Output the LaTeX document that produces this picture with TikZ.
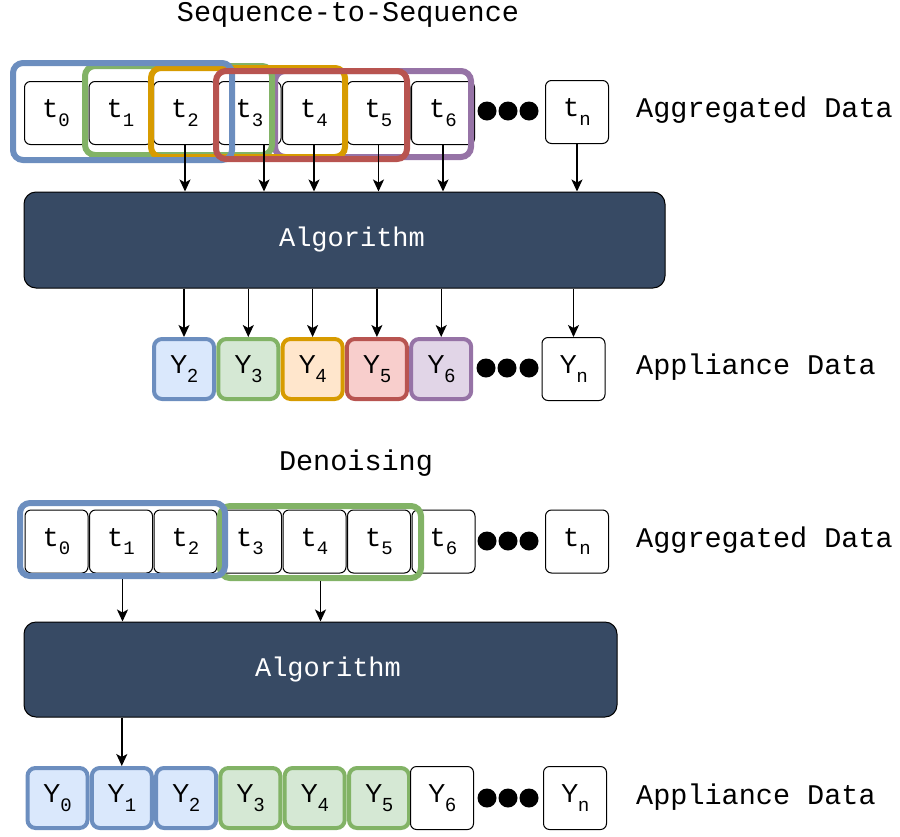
\documentclass[tikz,border=0pt]{standalone}
\usepackage{fontspec}
\setmainfont{Liberation Sans}
\setsansfont{Liberation Sans}
\setmonofont{Liberation Mono}
\usetikzlibrary{arrows.meta,positioning}

\definecolor{winblue}{HTML}{6C8EBF}
\definecolor{fillblue}{HTML}{DAE8FC}
\definecolor{wingreen}{HTML}{82B366}
\definecolor{fillgreen}{HTML}{D5E8D4}
\definecolor{winorange}{HTML}{D79B00}
\definecolor{fillorange}{HTML}{FFE6CC}
\definecolor{winred}{HTML}{B85450}
\definecolor{fillred}{HTML}{F8CECC}
\definecolor{winpurple}{HTML}{9673A6}
\definecolor{fillpurple}{HTML}{E1D5E7}
\definecolor{algfill}{HTML}{374A64}

\newcommand{\idx}[1]{\raisebox{-0.32em}{\fontsize{19}{19}\selectfont #1}}

\tikzset{
  tbox/.style={draw=black, line width=1pt, fill=white, rounded corners=6pt,
    minimum width=63pt, minimum height=63pt, inner sep=0pt,
    font=\ttfamily\fontsize{27}{30}\selectfont},
  ybox/.style={draw=#1, line width=4pt, rounded corners=8pt,
    minimum width=60pt, minimum height=60pt, inner sep=0pt,
    font=\sffamily\fontsize{26}{30}\selectfont},
  ywhite/.style={draw=black, line width=1pt, fill=white, rounded corners=6pt,
    minimum width=63pt, minimum height=63pt, inner sep=0pt,
    font=\sffamily\fontsize{26}{30}\selectfont},
  window/.style={draw=#1, line width=6pt, rounded corners=10pt, inner sep=0pt},
  algbox/.style={draw=black, line width=1pt, fill=algfill, rounded corners=12pt,
    inner sep=0pt, text=white, font=\ttfamily\fontsize{27}{30}\selectfont},
  dotnode/.style={circle, fill=black, minimum size=19pt, inner sep=0pt},
  lbl/.style={inner sep=0pt, font=\ttfamily\fontsize{28.5}{34}\selectfont},
  arr/.style={-{Stealth[length=12pt,width=11pt,inset=3pt]}, line width=1.4pt}
}

\begin{document}
\begin{tikzpicture}[x=1pt, y=-1pt]
\useasboundingbox (0,0) rectangle (900,836);

% Sequence-to-Sequence
\node[lbl] (titleA) at (348,15) {Sequence-to-Sequence};

\foreach \i in {0,...,6}
  \node[tbox] (t\i) at ({56+64.5*\i},113) {t\idx{\i}};
\node[dotnode] (da1) at (487,111) {};
\node[dotnode] (da2) at (508,111) {};
\node[dotnode] (da3) at (529,111) {};
\node[tbox] (tn) at (577,112) {t\idx{n}};
\node[lbl, anchor=west] (aggA) at (636,110) {Aggregated Data};

\node[window=winpurple, minimum width=196pt, minimum height=86pt] (wp) at (373,114) {};
\node[window=wingreen, minimum width=187pt, minimum height=89pt] (wg) at (178.5,110.5) {};
\node[window=winorange, minimum width=194pt, minimum height=89pt] (wo) at (248,112.5) {};
\node[window=winblue, minimum width=219pt, minimum height=97pt] (wb) at (122.5,111.5) {};
\node[window=winred, minimum width=191pt, minimum height=88pt] (wr) at (311.5,115) {};

\node[algbox, minimum width=641pt, minimum height=96pt] (algA) at (344.5,240) {\hspace{15pt}Algorithm};

\draw[arr] (t2.south) -- (t2.south |- algA.north);
\draw[arr] ([xshift=14.5pt]t3.south) -- ([xshift=14.5pt]t3.south |- algA.north);
\draw[arr] (t4.south) -- (t4.south |- algA.north);
\draw[arr] (t5.south) -- (t5.south |- algA.north);
\draw[arr] (t6.south) -- (t6.south |- algA.north);
\draw[arr] (tn.south) -- (tn.south |- algA.north);

\node[ybox=winblue, fill=fillblue] (ya2) at (184,369) {Y\idx{2}};
\node[ybox=wingreen, fill=fillgreen] (ya3) at (248.3,369) {Y\idx{3}};
\node[ybox=winorange, fill=fillorange] (ya4) at (312.6,369) {Y\idx{4}};
\node[ybox=winred, fill=fillred] (ya5) at (376.9,369) {Y\idx{5}};
\node[ybox=winpurple, fill=fillpurple] (ya6) at (441.2,369) {Y\idx{6}};
\node[dotnode] (db1) at (486,368) {};
\node[dotnode] (db2) at (507,368) {};
\node[dotnode] (db3) at (529,368) {};
\node[ywhite] (yan) at (573.5,369) {Y\idx{n}};
\node[lbl, anchor=west] (appA) at (636,367) {Appliance Data};

\foreach \y in {ya2,ya3,ya4,ya5,ya6,yan}
  \draw[arr] (algA.south -| \y.north) -- (\y.north);

% Denoising
\node[lbl] (titleB) at (356,463) {Denoising};

\foreach \i in {0,...,6}
  \node[tbox] (s\i) at ({56.5+64.5*\i},541.5) {t\idx{\i}};
\node[dotnode] (dc1) at (487,541) {};
\node[dotnode] (dc2) at (508,541) {};
\node[dotnode] (dc3) at (529,541) {};
\node[tbox] (sn) at (577,541.5) {t\idx{n}};
\node[lbl, anchor=west] (aggB) at (636,540) {Aggregated Data};

\node[window=wingreen, minimum width=201pt, minimum height=72pt] (vg) at (320.5,542) {};
\node[window=winblue, minimum width=205pt, minimum height=73pt] (vb) at (122.5,539.5) {};

\node[algbox, minimum width=593pt, minimum height=95pt] (algB) at (320.5,669.5) {\hspace{15pt}Algorithm};

\draw[arr] (vb.south) -- (vb.south |- algB.north);
\draw[arr] (vg.south) -- (vg.south |- algB.north);

\node[ybox=winblue, fill=fillblue] (yb0) at (57.5,798) {Y\idx{\ttfamily 0}};
\node[ybox=winblue, fill=fillblue] (yb1) at (121.8,798) {Y\idx{\ttfamily 1}};
\node[ybox=winblue, fill=fillblue] (yb2) at (186.1,798) {Y\idx{2}};
\node[ybox=wingreen, fill=fillgreen] (yb3) at (250.4,798) {Y\idx{3}};
\node[ybox=wingreen, fill=fillgreen] (yb4) at (314.7,798) {Y\idx{4}};
\node[ybox=wingreen, fill=fillgreen] (yb5) at (379,798) {Y\idx{5}};
\node[ywhite] (yb6) at (442,798) {Y\idx{6}};
\node[dotnode] (dd1) at (487,798) {};
\node[dotnode] (dd2) at (508,798) {};
\node[dotnode] (dd3) at (529,798) {};
\node[ywhite] (ybn) at (575,798) {Y\idx{n}};
\node[lbl, anchor=west] (appB) at (636,797) {Appliance Data};

\draw[arr] (algB.south -| yb1.north) -- (yb1.north);
\end{tikzpicture}
\end{document}
